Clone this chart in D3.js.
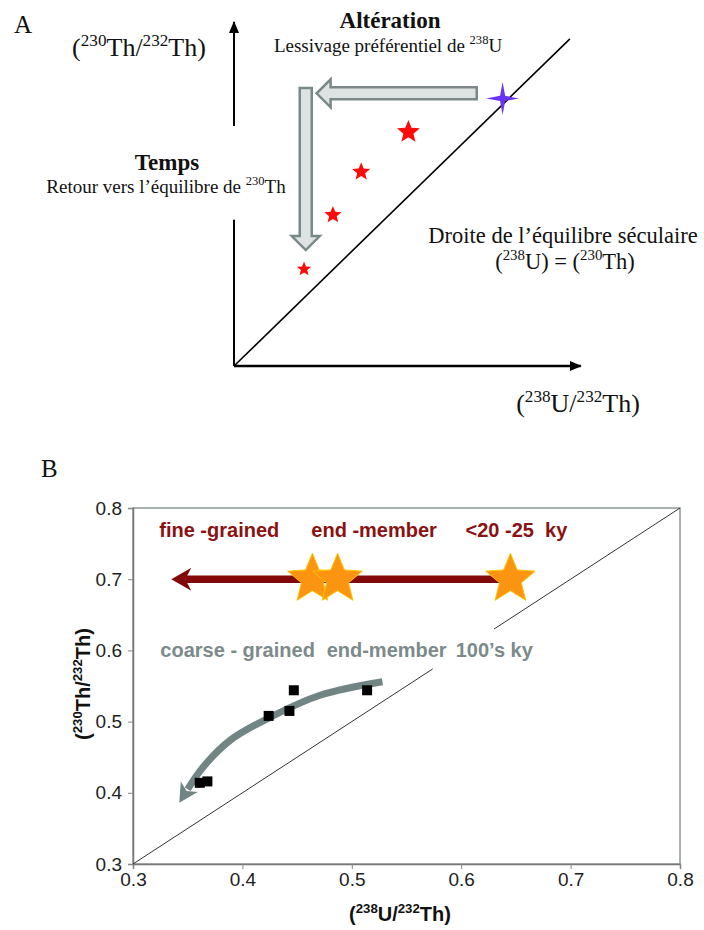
<!DOCTYPE html>
<html>
<head>
<meta charset="utf-8">
<script src="https://cdn.jsdelivr.net/npm/d3@7"></script>
<style>
  body { margin: 0; background: #fff; }
  svg { display: block; }
  text { white-space: pre; }
</style>
</head>
<body>
<script>
// panel A: schematic, unit coordinates (origin at the axes corner)
const eqLineA = [[0, 0], [0.988, 0.962]]
const sourceA = [0.79, 0.787]
const weatheredX = [0.513, 0.374, 0.291, 0.206]
const weatheredY = [0.688, 0.571, 0.444, 0.285]
const leachArrow = [[0.714, 0.802], [0.243, 0.802]]
const timeArrow = [[0.211, 0.818], [0.211, 0.341]]

// panel B: (238U/232Th) vs (230Th/232Th)
const xTicks = [0.3, 0.4, 0.5, 0.6, 0.7, 0.8]
const yTicks = [0.3, 0.4, 0.5, 0.6, 0.7, 0.8]
const sampleU = [0.361, 0.368, 0.424, 0.443, 0.447, 0.514]
const sampleTh = [0.414, 0.416, 0.508, 0.515, 0.544, 0.544]
const fineU = [0.464, 0.487, 0.645]
const fineTh = [0.7, 0.7, 0.7]
const fineArrow = [0.635, 0.335]
const coarseCurve = [[0.528, 0.556], [0.471, 0.537], [0.424, 0.505], [0.389, 0.474], [0.364, 0.436], [0.350, 0.405]]
const equiSegments = [[0.3, 0.574], [0.630, 0.8]]

const redStarR = [12, 9.5, 9, 7.5]

const svg = d3.select("body").append("svg")
    .attr("width", 704)
    .attr("height", 930)

const defs = svg.append("defs")

defs.append("marker")
    .attr("id", "axhead")
    .attr("markerUnits", "userSpaceOnUse")
    .attr("viewBox", "0 -5 12 10")
    .attr("refX", 11)
    .attr("markerWidth", 12)
    .attr("markerHeight", 10)
    .attr("orient", "auto")
  .append("path")
    .attr("d", "M0,-5L12,0L0,5Z")
    .attr("fill", "#000")

defs.append("marker")
    .attr("id", "curvehead")
    .attr("markerUnits", "userSpaceOnUse")
    .attr("viewBox", "-2 -11 20 22")
    .attr("refX", 1)
    .attr("markerWidth", 20)
    .attr("markerHeight", 22)
    .attr("orient", "auto")
  .append("path")
    .attr("d", "M-2,-10L17,0L-2,10L3,0Z")
    .attr("fill", "#728585")

function star(n, R, r) {
  const pts = d3.range(n * 2).map(i => {
    const a = Math.PI * i / n - Math.PI / 2
    const rad = i % 2 ? r : R
    return [rad * Math.cos(a), rad * Math.sin(a)]
  })
  return "M" + pts.join("L") + "Z"
}

function blockArrow(p0, p1, w, hw, hl) {
  const dx = p1[0] - p0[0], dy = p1[1] - p0[1], L = Math.hypot(dx, dy)
  const ux = dx / L, uy = dy / L, nx = -uy, ny = ux
  const b = L - hl
  const P = (s, t) => [p0[0] + ux * s + nx * t, p0[1] + uy * s + ny * t]
  return "M" + [P(0, -w), P(b, -w), P(b, -hw), P(L, 0), P(b, hw), P(b, w), P(0, w)].join("L") + "Z"
}

// text with ^sup^ parts
function rich(g, str, size, attrs) {
  const t = g.append("text").attr("font-size", size)
  Object.entries(attrs).forEach(([k, v]) => t.attr(k, v))
  const shift = size * 0.4
  str.split("^").forEach((p, i) => {
    if (!p) return
    const s = t.append("tspan").text(p)
    if (i % 2) s.attr("font-size", size * 0.66).attr("dy", -shift)
    else if (i > 0) s.attr("dy", shift)
  })
  return t
}

// ---------------- panel A ----------------
const ax = d3.scaleLinear([0, 1], [234, 574])
const ay = d3.scaleLinear([0, 1], [366, 26])
const gA = svg.append("g").attr("font-family", "Liberation Serif, serif").attr("fill", "#111")

gA.append("text").attr("x", 14).attr("y", 33).attr("font-size", 25).text("A")

// y axis (interrupted behind the "Temps" label)
gA.append("line")
    .attr("x1", ax(0)).attr("x2", ax(0))
    .attr("y1", ay(0)).attr("y2", ay(0.43))
    .attr("stroke", "#000").attr("stroke-width", 2)
gA.append("line")
    .attr("x1", ax(0)).attr("x2", ax(0))
    .attr("y1", ay(0.706)).attr("y2", ay(1.012))
    .attr("stroke", "#000").attr("stroke-width", 2)
    .attr("marker-end", "url(#axhead)")
gA.append("line")
    .attr("x1", ax(0)).attr("x2", ax(1.02))
    .attr("y1", ay(0)).attr("y2", ay(0))
    .attr("stroke", "#000").attr("stroke-width", 2.5)
    .attr("marker-end", "url(#axhead)")

gA.append("line")
    .attr("x1", ax(eqLineA[0][0])).attr("y1", ay(eqLineA[0][1]))
    .attr("x2", ax(eqLineA[1][0])).attr("y2", ay(eqLineA[1][1]))
    .attr("stroke", "#000").attr("stroke-width", 1.6)

gA.selectAll("path.block")
  .data([leachArrow, timeArrow])
  .join("path")
    .attr("class", "block")
    .attr("d", d => blockArrow([ax(d[0][0]), ay(d[0][1])], [ax(d[1][0]), ay(d[1][1])], 6, 14, 14))
    .attr("fill", "#dde3e3")
    .attr("stroke", "#7b8888")
    .attr("stroke-width", 2.5)

gA.append("path")
    .attr("d", star(4, 16.5, 3.6))
    .attr("transform", `translate(${ax(sourceA[0])},${ay(sourceA[1])})`)
    .attr("fill", "#6a34f4")

gA.selectAll("path.red")
  .data(weatheredX)
  .join("path")
    .attr("class", "red")
    .attr("d", (d, i) => star(5, redStarR[i], redStarR[i] * 0.44))
    .attr("transform", (d, i) => `translate(${ax(d)},${ay(weatheredY[i])})`)
    .attr("fill", "#ff0a0a")

rich(gA, "(^230^Th/^232^Th)", 26, {x: 139, y: 56, "text-anchor": "middle"})
rich(gA, "Altération", 23, {x: 390, y: 28, "text-anchor": "middle", "font-weight": "bold"})
rich(gA, "Lessivage préférentiel de ^238^U", 19, {x: 388, y: 52, "text-anchor": "middle"})
rich(gA, "Temps", 23, {x: 167, y: 170, "text-anchor": "middle", "font-weight": "bold"})
rich(gA, "Retour vers l’équilibre de ^230^Th", 19, {x: 166, y: 193, "text-anchor": "middle"})
rich(gA, "Droite de l’équilibre séculaire", 22.5, {x: 563, y: 243, "text-anchor": "middle"})
rich(gA, "(^238^U) = (^230^Th)", 22.5, {x: 565, y: 269, "text-anchor": "middle"})
rich(gA, "(^238^U/^232^Th)", 26, {x: 578, y: 412, "text-anchor": "middle"})

// ---------------- panel B ----------------
const x = d3.scaleLinear([0.3, 0.8], [133, 680])
const y = d3.scaleLinear([0.3, 0.8], [864, 508])
const gB = svg.append("g").attr("font-family", "Liberation Sans, Arial, sans-serif")

svg.append("text")
    .attr("x", 41).attr("y", 477)
    .attr("font-family", "Liberation Serif, serif")
    .attr("font-size", 25)
    .attr("fill", "#111")
    .text("B")

gB.append("rect")
    .attr("x", x(0.3)).attr("y", y(0.8))
    .attr("width", x(0.8) - x(0.3)).attr("height", y(0.3) - y(0.8))
    .attr("fill", "none")
    .attr("stroke", "#8f9696")
    .attr("stroke-width", 1.5)

const xAxis = gB.append("g")
    .attr("transform", `translate(0,${y(0.3)})`)
    .call(d3.axisBottom(x).tickValues(xTicks).tickFormat(d3.format(".1f")).tickSize(5).tickPadding(4))
const yAxis = gB.append("g")
    .attr("transform", `translate(${x(0.3)},0)`)
    .call(d3.axisLeft(y).tickValues(yTicks).tickFormat(d3.format(".1f")).tickSize(5).tickPadding(6))

for (const a of [xAxis, yAxis]) {
  a.select(".domain").attr("stroke", "#777").attr("stroke-width", 1.5)
  a.selectAll(".tick line").attr("stroke", "#888")
  a.selectAll(".tick text")
    .attr("font-size", 19)
    .attr("font-family", "Liberation Sans, Arial, sans-serif")
    .attr("fill", "#222")
}

gB.selectAll("line.equi")
  .data(equiSegments)
  .join("line")
    .attr("class", "equi")
    .attr("x1", d => x(d[0])).attr("y1", d => y(d[0]))
    .attr("x2", d => x(d[1])).attr("y2", d => y(d[1]))
    .attr("stroke", "#333")
    .attr("stroke-width", 1)

// fine-grained arrow
const tipX = x(fineArrow[1]), yA7 = y(fineTh[0])
gB.append("line")
    .attr("x1", x(fineArrow[0])).attr("x2", tipX + 14)
    .attr("y1", yA7).attr("y2", yA7)
    .attr("stroke", "#830909")
    .attr("stroke-width", 7.5)
gB.append("path")
    .attr("d", `M${tipX},${yA7}L${tipX + 20},${yA7 - 11.5}L${tipX + 14},${yA7}L${tipX + 20},${yA7 + 11.5}Z`)
    .attr("fill", "#830909")

gB.selectAll("path.fine")
  .data(fineU)
  .join("path")
    .attr("class", "fine")
    .attr("d", star(5, 26, 11.5))
    .attr("transform", (d, i) => `translate(${x(d)},${y(fineTh[i])})`)
    .attr("fill", "#fb9410")
    .attr("stroke", "#ffc400")
    .attr("stroke-width", 1)

// coarse-grained curved arrow
gB.append("path")
    .attr("d", d3.line().x(d => x(d[0])).y(d => y(d[1])).curve(d3.curveCatmullRom)(coarseCurve))
    .attr("fill", "none")
    .attr("stroke", "#728585")
    .attr("stroke-width", 7)
    .attr("marker-end", "url(#curvehead)")

gB.selectAll("rect.sample")
  .data(sampleU)
  .join("rect")
    .attr("class", "sample")
    .attr("x", d => x(d) - 5)
    .attr("y", (d, i) => y(sampleTh[i]) - 5)
    .attr("width", 10)
    .attr("height", 10)
    .attr("fill", "#000")

const fineLabels = [["fine -grained", 0.324], ["end -member", 0.463], ["<20 -25  ky", 0.604]]
const coarseLabels = [["coarse - grained", 0.325], ["end-member", 0.477], ["100’s ky", 0.595]]

gB.selectAll("text.finelab")
  .data(fineLabels)
  .join("text")
    .attr("class", "finelab")
    .attr("x", d => x(d[1]))
    .attr("y", y(0.759))
    .attr("font-size", 20)
    .attr("font-weight", "bold")
    .attr("fill", "#8a1212")
    .text(d => d[0])

gB.selectAll("text.coarselab")
  .data(coarseLabels)
  .join("text")
    .attr("class", "coarselab")
    .attr("x", d => x(d[1]))
    .attr("y", y(0.591))
    .attr("font-size", 20)
    .attr("font-weight", "bold")
    .attr("fill", "#7d8a8a")
    .text(d => d[0])

rich(gB, "(^230^Th/^232^Th)", 20, {
  transform: "translate(90,684) rotate(-90)", "text-anchor": "middle", "font-weight": "bold", fill: "#111"
})
rich(gB, "(^238^U/^232^Th)", 20, {x: 400, y: 921, "text-anchor": "middle", "font-weight": "bold", fill: "#111"})
</script>
</body>
</html>
